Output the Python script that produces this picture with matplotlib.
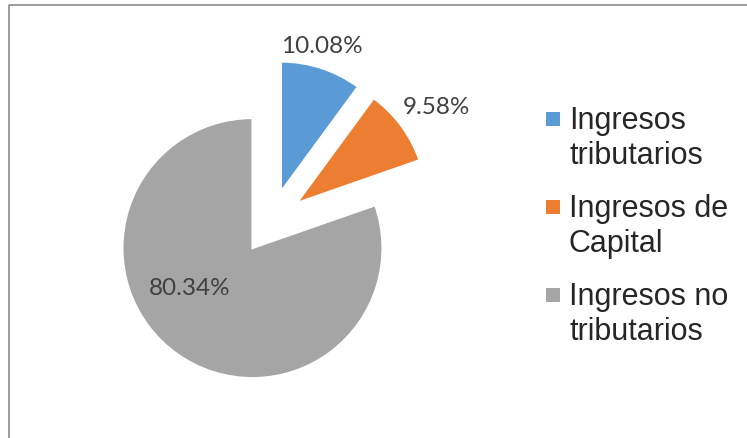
import numpy as np
import matplotlib
matplotlib.use("Agg")
import matplotlib.pyplot as plt
from matplotlib.lines import Line2D
from matplotlib.patches import Rectangle

# Data
categories = ["Ingresos\ntributarios", "Ingresos de\nCapital", "Ingresos no\ntributarios"]
shares = [10.08, 9.58, 80.34]
colors = ["#5B9BD5", "#ED7D31", "#A5A5A5"]

# Canvas (pixel-sized axes, y pointing up)
W, H = 747, 438
fig = plt.figure(figsize=(W / 100, H / 100), dpi=100)
ax = fig.add_axes([0, 0, 1, 1])

R = 130
wedges, texts, autotexts = ax.pie(
    shares, colors=colors, startangle=90, counterclock=False,
    explode=[32] * 3, radius=R, center=(271, H - 222),
    autopct="%.2f%%", pctdistance=0.6,
    wedgeprops=dict(edgecolor="white", linewidth=1.5),
    textprops=dict(fontsize=17.5, color="#404040", family="Lato"))

# Move percentage labels (distance and angle shift relative to each wedge)
label_r = [1.16, 1.30, 0.57]
label_dt = [2.5, -2.0, -22.0]
for w, t, lr, dt in zip(wedges, autotexts, label_r, label_dt):
    ang = np.deg2rad((w.theta1 + w.theta2) / 2 + dt)
    cx, cy = w.center
    t.set_position((cx + lr * w.r * np.cos(ang), cy + lr * w.r * np.sin(ang)))
    t.set_ha("center")
    t.set_va("center")

ax.set_xlim(0, W)
ax.set_ylim(0, H)
ax.set_aspect("equal")
ax.axis("off")

# Legend drawn by hand so the marker sits on the first text line
leg_x, leg_y0, leg_step, line_step = 569, 129, 88, 35
for i, (cat, col) in enumerate(zip(categories, colors)):
    base = leg_y0 + i * leg_step
    ax.add_patch(Rectangle((546, H - base + 3), 14, 14, facecolor=col, edgecolor="none"))
    for j, line in enumerate(cat.split("\n")):
        ax.text(leg_x, H - (base + j * line_step), line, ha="left", va="baseline",
                fontsize=22, family="Liberation Sans", color="#262626")

# Chart area border (left and top edges visible)
fig.add_artist(Line2D([9 / W, 9 / W, 1.0], [0.0, 1 - 5 / H, 1 - 5 / H],
                      transform=fig.transFigure, color="#8C8C8C", linewidth=1.2))

plt.savefig("out.png", dpi=100)
